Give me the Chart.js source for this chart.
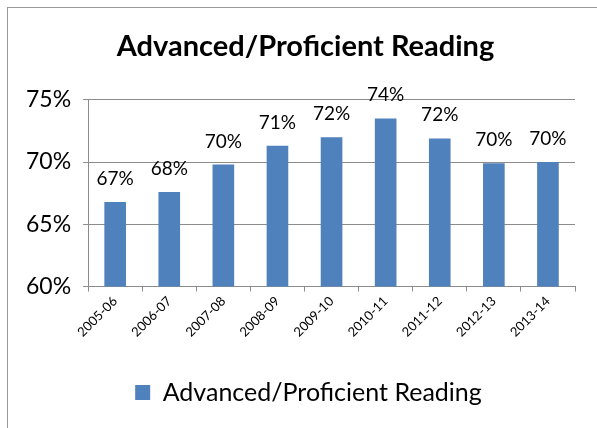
<!DOCTYPE html>
<html>
<head>
<meta charset="utf-8">
<script src="https://cdn.jsdelivr.net/npm/chart.js@4"></script>
<style>
  html, body { margin: 0; padding: 0; background: #fff; }
  #wrap { position: relative; width: 597px; height: 428px; overflow: hidden; }
  #frame { position: absolute; left: 7px; top: 7px; width: 620px; height: 460px; border: 1px solid #9a9a9a; box-sizing: border-box; }
  canvas { position: absolute; left: 0; top: 0; }
</style>
</head>
<body>
<div id="wrap">
  <div id="frame"></div>
  <canvas id="chart" width="597" height="428"></canvas>
</div>
<script>
// dados
const years = ['2005-06', '2006-07', '2007-08', '2008-09', '2009-10', '2010-11', '2011-12', '2012-13', '2013-14'];
const reading = [66.8, 67.6, 69.8, 71.3, 72.0, 73.5, 71.9, 69.9, 70.0];
const yTicks = [60, 65, 70, 75];
const seriesName = 'Advanced/Proficient Reading';

const FONT = 'Lato, "Open Sans", sans-serif';

// rotulos de valor acima das barras
const rotulos = {
    id: 'rotulos',
    afterDatasetsDraw(chart) {
        const ctx = chart.ctx;
        const meta = chart.getDatasetMeta(0);
        ctx.save();
        ctx.font = '19px ' + FONT;
        ctx.fillStyle = '#000';
        ctx.textAlign = 'center';
        ctx.textBaseline = 'alphabetic';
        meta.data.forEach((bar, i) => {
            ctx.fillText(Math.round(reading[i]) + '%', bar.x, bar.y - 17);
        });
        ctx.restore();
    }
};

// titulo e legenda um pouco deslocados para a direita, como no original
const deslocamento = {
    id: 'deslocamento',
    afterLayout(chart) {
        if (chart.titleBlock) {
            chart.titleBlock.left += 11;
            chart.titleBlock.right += 11;
        }
        if (chart.legend) {
            chart.legend.left += 14;
            chart.legend.right += 14;
        }
    }
};

var config = {
    type: 'bar',
    data: {
        labels: years,
        datasets: [{
            label: seriesName,
            data: reading,
            backgroundColor: '#4F81BD',
            borderWidth: 0,
            categoryPercentage: 1,
            barPercentage: 0.4
        }]
    },
    options: {
        responsive: false,
        animation: false,
        layout: { padding: { left: 14, right: 22, top: 4, bottom: 13 } },
        plugins: {
            title: {
                display: true,
                text: seriesName,
                color: '#000',
                font: { family: FONT, size: 29, weight: 'bold' },
                padding: { top: 25, bottom: 36 }
            },
            legend: {
                position: 'bottom',
                labels: {
                    color: '#000',
                    font: { family: FONT, size: 25 },
                    boxWidth: 15,
                    boxHeight: 15,
                    padding: 10
                }
            },
            tooltip: { enabled: false }
        },
        scales: {
            x: {
                grid: { display: true, drawOnChartArea: false, drawTicks: true, tickLength: 5, color: '#8c8c8c', offset: true },
                border: { color: '#8c8c8c', width: 1 },
                ticks: { color: '#000', font: { family: FONT, size: 13 }, minRotation: 45, maxRotation: 45, padding: 2 },
                afterFit(axis) {
                    axis.height += 28;
                }
            },
            y: {
                min: 60,
                max: 75,
                afterBuildTicks(axis) {
                    axis.ticks = yTicks.map(v => ({ value: v }));
                },
                grid: { color: '#8c8c8c', tickLength: 5 },
                border: { color: '#8c8c8c', width: 1 },
                ticks: {
                    color: '#000',
                    font: { family: FONT, size: 23 },
                    padding: 12,
                    callback: v => v + '%'
                }
            }
        }
    },
    plugins: [rotulos, deslocamento]
};

var ctx = document.getElementById('chart').getContext('2d');
var grafico = new Chart(ctx, config);
</script>
</body>
</html>
